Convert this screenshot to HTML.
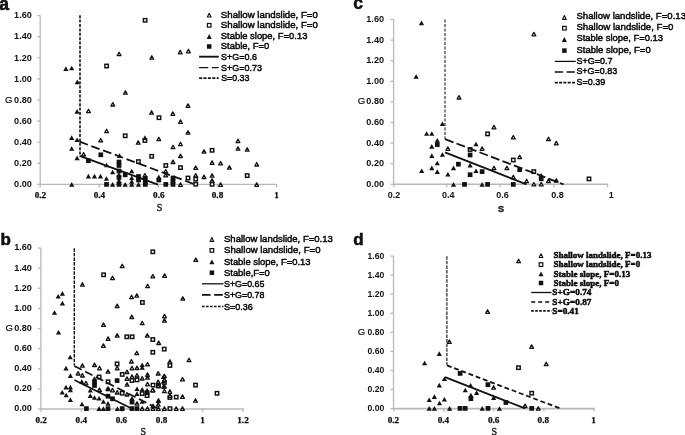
<!DOCTYPE html><html><head><meta charset="utf-8"><style>html,body{margin:0;padding:0;background:#fff;overflow:hidden}svg{display:block;filter:blur(0.3px)}.axis{stroke:#b8b8b8;stroke-width:1.3}.ot{fill:#fff;stroke:#111;stroke-width:1.3;stroke-linejoin:round}.os{fill:#fff;stroke:#111;stroke-width:1.45}.ft,.fs{fill:#111;stroke:none}.sol{stroke:#111;stroke-width:1.8}.dsh{stroke:#111;stroke-width:1.8}.dot{stroke:#111;stroke-width:1.4}text{fill:#111}.lg{stroke:#000;stroke-width:0.45}</style></head><body>
<svg width="685" height="435" viewBox="0 0 685 435">
<rect width="685" height="435" fill="#fff"/>
<g>
<line class="axis" x1="40.2" y1="15.6" x2="40.2" y2="184.4" style="stroke-width:1.3"/>
<line class="axis" x1="39.6" y1="184.4" x2="277.2" y2="184.4" style="stroke-width:1.25"/>
<line class="axis" x1="37.2" y1="184.4" x2="40.2" y2="184.4"/>
<text x="31.8" y="187.15" font-size="9.1" font-family='"Liberation Sans", sans-serif' font-weight="bold" text-anchor="end" >0.00</text>
<line class="axis" x1="37.2" y1="163.3" x2="40.2" y2="163.3"/>
<text x="31.8" y="166.05" font-size="9.1" font-family='"Liberation Sans", sans-serif' font-weight="bold" text-anchor="end" >0.20</text>
<line class="axis" x1="37.2" y1="142.2" x2="40.2" y2="142.2"/>
<text x="31.8" y="144.95" font-size="9.1" font-family='"Liberation Sans", sans-serif' font-weight="bold" text-anchor="end" >0.40</text>
<line class="axis" x1="37.2" y1="121.1" x2="40.2" y2="121.1"/>
<text x="31.8" y="123.85" font-size="9.1" font-family='"Liberation Sans", sans-serif' font-weight="bold" text-anchor="end" >0.60</text>
<line class="axis" x1="37.2" y1="100" x2="40.2" y2="100"/>
<text x="31.8" y="102.75" font-size="9.1" font-family='"Liberation Sans", sans-serif' font-weight="bold" text-anchor="end" >0.80</text>
<line class="axis" x1="37.2" y1="78.9" x2="40.2" y2="78.9"/>
<text x="31.8" y="81.65" font-size="9.1" font-family='"Liberation Sans", sans-serif' font-weight="bold" text-anchor="end" >1.00</text>
<line class="axis" x1="37.2" y1="57.8" x2="40.2" y2="57.8"/>
<text x="31.8" y="60.55" font-size="9.1" font-family='"Liberation Sans", sans-serif' font-weight="bold" text-anchor="end" >1.20</text>
<line class="axis" x1="37.2" y1="36.7" x2="40.2" y2="36.7"/>
<text x="31.8" y="39.45" font-size="9.1" font-family='"Liberation Sans", sans-serif' font-weight="bold" text-anchor="end" >1.40</text>
<line class="axis" x1="37.2" y1="15.6" x2="40.2" y2="15.6"/>
<text x="31.8" y="18.35" font-size="9.1" font-family='"Liberation Sans", sans-serif' font-weight="bold" text-anchor="end" >1.60</text>
<line class="axis" x1="40.2" y1="183.9" x2="40.2" y2="187.4"/>
<line class="axis" x1="99.3" y1="183.9" x2="99.3" y2="187.4"/>
<line class="axis" x1="158.4" y1="183.9" x2="158.4" y2="187.4"/>
<line class="axis" x1="217.5" y1="183.9" x2="217.5" y2="187.4"/>
<line class="axis" x1="276.6" y1="183.9" x2="276.6" y2="187.4"/>
<text x="40.4" y="197.73" font-size="9.2" font-family='"Liberation Serif", serif' font-weight="bold" text-anchor="middle" style="stroke:#000;stroke-width:0.25">0.2</text>
<text x="99.4" y="197.73" font-size="9.2" font-family='"Liberation Serif", serif' font-weight="bold" text-anchor="middle" style="stroke:#000;stroke-width:0.25">0.4</text>
<text x="158.8" y="197.73" font-size="9.2" font-family='"Liberation Serif", serif' font-weight="bold" text-anchor="middle" style="stroke:#000;stroke-width:0.25">0.6</text>
<text x="217.5" y="197.73" font-size="9.2" font-family='"Liberation Serif", serif' font-weight="bold" text-anchor="middle" style="stroke:#000;stroke-width:0.25">0.8</text>
<text x="276.5" y="197.73" font-size="9.2" font-family='"Liberation Serif", serif' font-weight="bold" text-anchor="middle" style="stroke:#000;stroke-width:0.25">1</text>
<text x="5" y="102.99" font-size="9.6" font-family='"Liberation Sans", sans-serif' font-weight="normal" text-anchor="start" style="stroke:#000;stroke-width:0.2">G</text>
<text x="159.5" y="210.9" font-size="10" font-family='"Liberation Serif", serif' font-weight="normal" text-anchor="middle" style="stroke:#000;stroke-width:0.3">S</text>
<text x="-0.8" y="9.5" font-size="17.5" font-family='"Liberation Sans", sans-serif' font-weight="bold" text-anchor="start" style="stroke:#000;stroke-width:0.5">a</text>
<rect class="os" x="143.4" y="18.6" width="3.4" height="3.4"/>
<rect class="os" x="104.9" y="64.3" width="3.4" height="3.4"/>
<rect class="os" x="123.5" y="134.1" width="3.4" height="3.4"/>
<rect class="os" x="157.3" y="116" width="3.4" height="3.4"/>
<rect class="os" x="136.7" y="159.9" width="3.4" height="3.4"/>
<rect class="os" x="150" y="154.6" width="3.4" height="3.4"/>
<rect class="os" x="164.1" y="163.8" width="3.4" height="3.4"/>
<rect class="os" x="178.8" y="165.9" width="3.4" height="3.4"/>
<rect class="os" x="194" y="177.4" width="3.4" height="3.4"/>
<rect class="os" x="194" y="182.5" width="3.4" height="3.4"/>
<rect class="os" x="186.3" y="176.3" width="3.4" height="3.4"/>
<rect class="os" x="210.4" y="148.6" width="3.4" height="3.4"/>
<rect class="os" x="210.4" y="182.6" width="3.4" height="3.4"/>
<rect class="os" x="245.5" y="173.9" width="3.4" height="3.4"/>
<rect class="os" x="143.2" y="138.8" width="3.4" height="3.4"/>
<polygon class="ot" points="117.2,55.6 121,55.6 119.1,52.2"/>
<polygon class="ot" points="149.9,59.2 153.7,59.2 151.8,55.8"/>
<polygon class="ot" points="178.3,53.8 182.1,53.8 180.2,50.4"/>
<polygon class="ot" points="186.5,52.8 190.3,52.8 188.4,49.4"/>
<polygon class="ot" points="123.5,94.2 127.3,94.2 125.4,90.8"/>
<polygon class="ot" points="110.9,106 114.7,106 112.8,102.6"/>
<polygon class="ot" points="186.1,107.3 189.9,107.3 188,103.9"/>
<polygon class="ot" points="86.6,112.6 90.4,112.6 88.5,109.2"/>
<polygon class="ot" points="149.7,114.2 153.5,114.2 151.6,110.8"/>
<polygon class="ot" points="170.9,115.3 174.7,115.3 172.8,111.9"/>
<polygon class="ot" points="178.6,123.3 182.4,123.3 180.5,119.9"/>
<polygon class="ot" points="104.7,132.7 108.5,132.7 106.6,129.3"/>
<polygon class="ot" points="186.1,134.1 189.9,134.1 188,130.7"/>
<polygon class="ot" points="98.8,141.9 102.6,141.9 100.7,138.5"/>
<polygon class="ot" points="136.3,144.2 140.1,144.2 138.2,140.8"/>
<polygon class="ot" points="156.9,140.6 160.7,140.6 158.8,137.2"/>
<polygon class="ot" points="171.1,148.7 174.9,148.7 173,145.3"/>
<polygon class="ot" points="178.6,145.7 182.4,145.7 180.5,142.3"/>
<polygon class="ot" points="178.6,157.5 182.4,157.5 180.5,154.1"/>
<polygon class="ot" points="171.1,163.5 174.9,163.5 173,160.1"/>
<polygon class="ot" points="163.8,172.9 167.6,172.9 165.7,169.5"/>
<polygon class="ot" points="163.8,176.9 167.6,176.9 165.7,173.5"/>
<polygon class="ot" points="193.8,169.4 197.6,169.4 195.7,166"/>
<polygon class="ot" points="193.8,177 197.6,177 195.7,173.6"/>
<polygon class="ot" points="202.1,153.1 205.9,153.1 204,149.7"/>
<polygon class="ot" points="210.2,164.3 214,164.3 212.1,160.9"/>
<polygon class="ot" points="218.7,164.9 222.5,164.9 220.6,161.5"/>
<polygon class="ot" points="227.5,169.1 231.3,169.1 229.4,165.7"/>
<polygon class="ot" points="202.1,178.5 205.9,178.5 204,175.1"/>
<polygon class="ot" points="210.2,177.2 214,177.2 212.1,173.8"/>
<polygon class="ot" points="210.2,182.1 214,182.1 212.1,178.7"/>
<polygon class="ot" points="218.7,186.3 222.5,186.3 220.6,182.9"/>
<polygon class="ot" points="236.1,142.6 239.9,142.6 238,139.2"/>
<polygon class="ot" points="236.1,150.2 239.9,150.2 238,146.8"/>
<polygon class="ot" points="245.3,151.2 249.1,151.2 247.2,147.8"/>
<polygon class="ot" points="254.8,166 258.6,166 256.7,162.6"/>
<polygon class="ot" points="254.8,186.3 258.6,186.3 256.7,182.9"/>
<polygon class="ot" points="81.7,156 85.5,156 83.6,152.6"/>
<polygon class="ot" points="143,177 146.8,177 144.9,173.6"/>
<polygon class="ot" points="178.6,186.3 182.4,186.3 180.5,182.9"/>
<rect class="fs" x="86.05" y="158.35" width="4.7" height="4.7"/>
<rect class="fs" x="98.45" y="152.45" width="4.7" height="4.7"/>
<rect class="fs" x="116.65" y="159.65" width="4.7" height="4.7"/>
<rect class="fs" x="116.65" y="163.15" width="4.7" height="4.7"/>
<rect class="fs" x="116.65" y="168.65" width="4.7" height="4.7"/>
<rect class="fs" x="116.65" y="175.15" width="4.7" height="4.7"/>
<rect class="fs" x="116.65" y="182.05" width="4.7" height="4.7"/>
<rect class="fs" x="104.15" y="182.05" width="4.7" height="4.7"/>
<rect class="fs" x="122.85" y="172.45" width="4.7" height="4.7"/>
<rect class="fs" x="136.15" y="174.15" width="4.7" height="4.7"/>
<rect class="fs" x="136.15" y="177.65" width="4.7" height="4.7"/>
<rect class="fs" x="142.95" y="176.15" width="4.7" height="4.7"/>
<rect class="fs" x="142.95" y="179.65" width="4.7" height="4.7"/>
<rect class="fs" x="142.95" y="182.05" width="4.7" height="4.7"/>
<rect class="fs" x="156.45" y="177.65" width="4.7" height="4.7"/>
<rect class="fs" x="163.45" y="182.05" width="4.7" height="4.7"/>
<rect class="fs" x="170.65" y="175.65" width="4.7" height="4.7"/>
<rect class="fs" x="170.65" y="178.95" width="4.7" height="4.7"/>
<rect class="fs" x="170.65" y="182.05" width="4.7" height="4.7"/>
<polygon class="ft" points="63.3,70.9 68.5,70.9 65.9,66.3"/>
<polygon class="ft" points="69.1,70.3 74.3,70.3 71.7,65.7"/>
<polygon class="ft" points="74.7,84.2 79.9,84.2 77.3,79.6"/>
<polygon class="ft" points="74.5,113.7 79.7,113.7 77.1,109.1"/>
<polygon class="ft" points="69.1,139.9 74.3,139.9 71.7,135.3"/>
<polygon class="ft" points="74.5,142.1 79.7,142.1 77.1,137.5"/>
<polygon class="ft" points="69.1,150.8 74.3,150.8 71.7,146.2"/>
<polygon class="ft" points="74.5,160.2 79.7,160.2 77.1,155.6"/>
<polygon class="ft" points="69.1,186.7 74.3,186.7 71.7,182.1"/>
<polygon class="ft" points="85.8,178.4 91,178.4 88.4,173.8"/>
<polygon class="ft" points="91.9,178.4 97.1,178.4 94.5,173.8"/>
<polygon class="ft" points="97.9,178.4 103.1,178.4 100.5,173.8"/>
<polygon class="ft" points="103.9,167.3 109.1,167.3 106.5,162.7"/>
<polygon class="ft" points="103.8,180.8 109,180.8 106.4,176.2"/>
<polygon class="ft" points="110,174.3 115.2,174.3 112.6,169.7"/>
<polygon class="ft" points="110,186.7 115.2,186.7 112.6,182.1"/>
<polygon class="ft" points="116.9,157.9 122.1,157.9 119.5,153.3"/>
<polygon class="ft" points="122.6,186.7 127.8,186.7 125.2,182.1"/>
<polygon class="ft" points="129.1,173.3 134.3,173.3 131.7,168.7"/>
<polygon class="ft" points="129.1,180.1 134.3,180.1 131.7,175.5"/>
<polygon class="ft" points="129.1,183.7 134.3,183.7 131.7,179.1"/>
<polygon class="ft" points="129.1,186.7 134.3,186.7 131.7,182.1"/>
<polygon class="ft" points="135.9,186.7 141.1,186.7 138.5,182.1"/>
<polygon class="ft" points="156.2,179.2 161.4,179.2 158.8,174.6"/>
<polygon class="ft" points="142.3,139.9 147.5,139.9 144.9,135.3"/>
<polygon class="ft" points="116.4,176.8 121.6,176.8 119,172.2"/>
<polygon class="ft" points="116.4,182.8 121.6,182.8 119,178.2"/>
<line class="dot" x1="80" y1="15.2" x2="80" y2="156.2" stroke-dasharray="3 1.4" style="stroke-width:1.6"/>
<line class="dsh" x1="79.6" y1="141.7" x2="194.7" y2="184.3" stroke-dasharray="8.8 3.7"/>
<line class="sol" x1="79.6" y1="155.9" x2="158" y2="184.7"/>
<polygon class="ot" style="stroke-width:1.1" points="207.35,17 211.05,17 209.2,13.2"/>
<text x="220.8" y="17.8" font-size="9.5" font-family='"Liberation Sans", sans-serif' font-weight="normal" text-anchor="start"  class="lg" textLength="97.1" lengthAdjust="spacingAndGlyphs">Shallow landslide, F=0</text>
<rect class="os" style="stroke-width:1.2" x="207.4" y="23.5" width="3.6" height="3.6"/>
<text x="220.8" y="28.1" font-size="9.5" font-family='"Liberation Sans", sans-serif' font-weight="normal" text-anchor="start"  class="lg" textLength="97.1" lengthAdjust="spacingAndGlyphs">Shallow landslide, F=0</text>
<polygon class="ft" points="206.7,38.95 211.7,38.95 209.2,34.05"/>
<text x="220.8" y="38.5" font-size="9.5" font-family='"Liberation Sans", sans-serif' font-weight="normal" text-anchor="start"  class="lg" textLength="86.6" lengthAdjust="spacingAndGlyphs">Stable slope, F=0.13</text>
<rect class="fs" x="206.95" y="44.25" width="4.5" height="4.5"/>
<text x="220.8" y="49" font-size="9.5" font-family='"Liberation Sans", sans-serif' font-weight="normal" text-anchor="start"  class="lg" textLength="48.5" lengthAdjust="spacingAndGlyphs">Stable, F=0</text>
<line class="sol" x1="199.1" y1="56.7" x2="218.7" y2="56.7" style="stroke-width:1.9"/>
<text x="221" y="59.6" font-size="9.5" font-family='"Liberation Sans", sans-serif' font-weight="normal" text-anchor="start"  class="lg" textLength="35.9" lengthAdjust="spacingAndGlyphs">S+G=0.6</text>
<line class="dsh" x1="199.1" y1="67.6" x2="218.7" y2="67.6" stroke-dasharray="9.2 3.6" style="stroke-width:1.3"/>
<text x="221" y="70.5" font-size="9.5" font-family='"Liberation Sans", sans-serif' font-weight="normal" text-anchor="start"  class="lg" textLength="41" lengthAdjust="spacingAndGlyphs">S+G=0.73</text>
<line class="dot" x1="199.1" y1="78.2" x2="218.7" y2="78.2" stroke-dasharray="3 1.4" style="stroke-width:1.7"/>
<text x="221.2" y="81.1" font-size="9.5" font-family='"Liberation Sans", sans-serif' font-weight="normal" text-anchor="start"  class="lg" textLength="28.2" lengthAdjust="spacingAndGlyphs">S=0.33</text>
</g>
<g>
<line class="axis" x1="40.9" y1="248.04" x2="40.9" y2="409" style="stroke-width:1.3"/>
<line class="axis" x1="40.3" y1="409" x2="243.6" y2="409" style="stroke-width:1.7"/>
<line class="axis" x1="37.9" y1="409" x2="40.9" y2="409"/>
<text x="31.9" y="411.4" font-size="9.1" font-family='"Liberation Sans", sans-serif' font-weight="bold" text-anchor="end" >0.00</text>
<line class="axis" x1="37.9" y1="388.88" x2="40.9" y2="388.88"/>
<text x="31.9" y="391.28" font-size="9.1" font-family='"Liberation Sans", sans-serif' font-weight="bold" text-anchor="end" >0.20</text>
<line class="axis" x1="37.9" y1="368.76" x2="40.9" y2="368.76"/>
<text x="31.9" y="371.16" font-size="9.1" font-family='"Liberation Sans", sans-serif' font-weight="bold" text-anchor="end" >0.40</text>
<line class="axis" x1="37.9" y1="348.64" x2="40.9" y2="348.64"/>
<text x="31.9" y="351.04" font-size="9.1" font-family='"Liberation Sans", sans-serif' font-weight="bold" text-anchor="end" >0.60</text>
<line class="axis" x1="37.9" y1="328.52" x2="40.9" y2="328.52"/>
<text x="31.9" y="330.92" font-size="9.1" font-family='"Liberation Sans", sans-serif' font-weight="bold" text-anchor="end" >0.80</text>
<line class="axis" x1="37.9" y1="308.4" x2="40.9" y2="308.4"/>
<text x="31.9" y="310.8" font-size="9.1" font-family='"Liberation Sans", sans-serif' font-weight="bold" text-anchor="end" >1.00</text>
<line class="axis" x1="37.9" y1="288.28" x2="40.9" y2="288.28"/>
<text x="31.9" y="290.68" font-size="9.1" font-family='"Liberation Sans", sans-serif' font-weight="bold" text-anchor="end" >1.20</text>
<line class="axis" x1="37.9" y1="268.16" x2="40.9" y2="268.16"/>
<text x="31.9" y="270.56" font-size="9.1" font-family='"Liberation Sans", sans-serif' font-weight="bold" text-anchor="end" >1.40</text>
<line class="axis" x1="37.9" y1="248.04" x2="40.9" y2="248.04"/>
<text x="31.9" y="250.44" font-size="9.1" font-family='"Liberation Sans", sans-serif' font-weight="bold" text-anchor="end" >1.60</text>
<line class="axis" x1="41" y1="408.5" x2="41" y2="412"/>
<line class="axis" x1="81.4" y1="408.5" x2="81.4" y2="412"/>
<line class="axis" x1="121.8" y1="408.5" x2="121.8" y2="412"/>
<line class="axis" x1="162.2" y1="408.5" x2="162.2" y2="412"/>
<line class="axis" x1="202.6" y1="408.5" x2="202.6" y2="412"/>
<line class="axis" x1="243" y1="408.5" x2="243" y2="412"/>
<text x="41.2" y="423.23" font-size="9.2" font-family='"Liberation Serif", serif' font-weight="bold" text-anchor="middle" style="stroke:#000;stroke-width:0.25">0.2</text>
<text x="81.3" y="423.23" font-size="9.2" font-family='"Liberation Serif", serif' font-weight="bold" text-anchor="middle" style="stroke:#000;stroke-width:0.25">0.4</text>
<text x="121.4" y="423.23" font-size="9.2" font-family='"Liberation Serif", serif' font-weight="bold" text-anchor="middle" style="stroke:#000;stroke-width:0.25">0.6</text>
<text x="161.6" y="423.23" font-size="9.2" font-family='"Liberation Serif", serif' font-weight="bold" text-anchor="middle" style="stroke:#000;stroke-width:0.25">0.8</text>
<text x="202.6" y="423.23" font-size="9.2" font-family='"Liberation Serif", serif' font-weight="bold" text-anchor="middle" style="stroke:#000;stroke-width:0.25">1</text>
<text x="243" y="423.23" font-size="9.2" font-family='"Liberation Serif", serif' font-weight="bold" text-anchor="middle" style="stroke:#000;stroke-width:0.25">1.2</text>
<text x="5.4" y="331.09" font-size="9.6" font-family='"Liberation Sans", sans-serif' font-weight="normal" text-anchor="start" style="stroke:#000;stroke-width:0.2">G</text>
<text x="143.2" y="434.7" font-size="10" font-family='"Liberation Serif", serif' font-weight="normal" text-anchor="middle" style="stroke:#000;stroke-width:0.3">S</text>
<text x="0.6" y="244.9" font-size="17" font-family='"Liberation Sans", sans-serif' font-weight="bold" text-anchor="start" style="stroke:#000;stroke-width:0.5">b</text>
<rect class="os" x="101.9" y="273.1" width="3.4" height="3.4"/>
<rect class="os" x="151.1" y="250.1" width="3.4" height="3.4"/>
<rect class="os" x="140.7" y="300.8" width="3.4" height="3.4"/>
<rect class="os" x="125.1" y="335.1" width="3.4" height="3.4"/>
<rect class="os" x="130.4" y="335.1" width="3.4" height="3.4"/>
<rect class="os" x="151.1" y="337.8" width="3.4" height="3.4"/>
<rect class="os" x="151.1" y="350.6" width="3.4" height="3.4"/>
<rect class="os" x="162.5" y="347.4" width="3.4" height="3.4"/>
<rect class="os" x="115.4" y="362.2" width="3.4" height="3.4"/>
<rect class="os" x="97.4" y="375.3" width="3.4" height="3.4"/>
<rect class="os" x="106.3" y="380.1" width="3.4" height="3.4"/>
<rect class="os" x="120.5" y="372.7" width="3.4" height="3.4"/>
<rect class="os" x="130.3" y="378.8" width="3.4" height="3.4"/>
<rect class="os" x="135.3" y="378.2" width="3.4" height="3.4"/>
<rect class="os" x="151.3" y="383.4" width="3.4" height="3.4"/>
<rect class="os" x="120.5" y="391.5" width="3.4" height="3.4"/>
<rect class="os" x="140.5" y="391.9" width="3.4" height="3.4"/>
<rect class="os" x="145.4" y="393.9" width="3.4" height="3.4"/>
<rect class="os" x="168.2" y="363.8" width="3.4" height="3.4"/>
<rect class="os" x="162.7" y="380.8" width="3.4" height="3.4"/>
<rect class="os" x="156.8" y="384.1" width="3.4" height="3.4"/>
<rect class="os" x="168.2" y="395.8" width="3.4" height="3.4"/>
<rect class="os" x="174.5" y="395.4" width="3.4" height="3.4"/>
<rect class="os" x="193.8" y="383.4" width="3.4" height="3.4"/>
<rect class="os" x="215.3" y="391.6" width="3.4" height="3.4"/>
<rect class="os" x="168.2" y="406.9" width="3.4" height="3.4"/>
<polygon class="ot" points="80.5,286.2 84.3,286.2 82.4,282.8"/>
<polygon class="ot" points="110.6,279.6 114.4,279.6 112.5,276.2"/>
<polygon class="ot" points="120.3,267.6 124.1,267.6 122.2,264.2"/>
<polygon class="ot" points="129.7,298.6 133.5,298.6 131.6,295.2"/>
<polygon class="ot" points="134.9,297.2 138.7,297.2 136.8,293.8"/>
<polygon class="ot" points="115.3,307.5 119.1,307.5 117.2,304.1"/>
<polygon class="ot" points="129.9,318.5 133.7,318.5 131.8,315.1"/>
<polygon class="ot" points="101.6,326.4 105.4,326.4 103.5,323"/>
<polygon class="ot" points="193.9,261.4 197.7,261.4 195.8,258"/>
<polygon class="ot" points="150.9,277.9 154.7,277.9 152.8,274.5"/>
<polygon class="ot" points="162.7,277.3 166.5,277.3 164.6,273.9"/>
<polygon class="ot" points="145.7,287.7 149.5,287.7 147.6,284.3"/>
<polygon class="ot" points="180.9,300.1 184.7,300.1 182.8,296.7"/>
<polygon class="ot" points="140.3,324.7 144.1,324.7 142.2,321.3"/>
<polygon class="ot" points="162.6,317.8 166.4,317.8 164.5,314.4"/>
<polygon class="ot" points="162.6,322.1 166.4,322.1 164.5,318.7"/>
<polygon class="ot" points="106.2,340.3 110,340.3 108.1,336.9"/>
<polygon class="ot" points="115.3,337.1 119.1,337.1 117.2,333.7"/>
<polygon class="ot" points="145.4,337.1 149.2,337.1 147.3,333.7"/>
<polygon class="ot" points="156.8,344.5 160.6,344.5 158.7,341.1"/>
<polygon class="ot" points="101.5,347.3 105.3,347.3 103.4,343.9"/>
<polygon class="ot" points="134.9,354.6 138.7,354.6 136.8,351.2"/>
<polygon class="ot" points="80.5,367.2 84.3,367.2 82.4,363.8"/>
<polygon class="ot" points="92.6,366.5 96.4,366.5 94.5,363.1"/>
<polygon class="ot" points="97.6,369.8 101.4,369.8 99.5,366.4"/>
<polygon class="ot" points="106.1,373.1 109.9,373.1 108,369.7"/>
<polygon class="ot" points="115.3,369.8 119.1,369.8 117.2,366.4"/>
<polygon class="ot" points="76.2,375 80,375 78.1,371.6"/>
<polygon class="ot" points="80.5,377 84.3,377 82.4,373.6"/>
<polygon class="ot" points="84.1,384.8 87.9,384.8 86,381.4"/>
<polygon class="ot" points="97.6,391.4 101.4,391.4 99.5,388"/>
<polygon class="ot" points="106.1,390.1 109.9,390.1 108,386.7"/>
<polygon class="ot" points="110.6,391.8 114.4,391.8 112.5,388.4"/>
<polygon class="ot" points="115.3,394 119.1,394 117.2,390.6"/>
<polygon class="ot" points="129.5,363 133.3,363 131.4,359.6"/>
<polygon class="ot" points="145.6,365.9 149.4,365.9 147.5,362.5"/>
<polygon class="ot" points="130.1,369.8 133.9,369.8 132,366.4"/>
<polygon class="ot" points="135.1,369.5 138.9,369.5 137,366.1"/>
<polygon class="ot" points="125.1,373.5 128.9,373.5 127,370.1"/>
<polygon class="ot" points="125.1,380.3 128.9,380.3 127,376.9"/>
<polygon class="ot" points="130.1,378.3 133.9,378.3 132,374.9"/>
<polygon class="ot" points="135.1,377 138.9,377 137,373.6"/>
<polygon class="ot" points="140.3,380 144.1,380 142.2,376.6"/>
<polygon class="ot" points="145.6,376.3 149.4,376.3 147.5,372.9"/>
<polygon class="ot" points="145.6,379.2 149.4,379.2 147.5,375.8"/>
<polygon class="ot" points="156.3,375 160.1,375 158.2,371.6"/>
<polygon class="ot" points="125.1,386.2 128.9,386.2 127,382.8"/>
<polygon class="ot" points="145.6,385.8 149.4,385.8 147.5,382.4"/>
<polygon class="ot" points="156.3,383.5 160.1,383.5 158.2,380.1"/>
<polygon class="ot" points="156.3,387.5 160.1,387.5 158.2,384.1"/>
<polygon class="ot" points="151.1,391.8 154.9,391.8 153,388.4"/>
<polygon class="ot" points="125.1,396 128.9,396 127,392.6"/>
<polygon class="ot" points="135.1,405.1 138.9,405.1 137,401.7"/>
<polygon class="ot" points="156.3,406.2 160.1,406.2 158.2,402.8"/>
<polygon class="ot" points="151.1,407.7 154.9,407.7 153,404.3"/>
<polygon class="ot" points="140.3,410.3 144.1,410.3 142.2,406.9"/>
<polygon class="ot" points="145.6,410.3 149.4,410.3 147.5,406.9"/>
<polygon class="ot" points="151.1,410.3 154.9,410.3 153,406.9"/>
<polygon class="ot" points="156.4,410.3 160.2,410.3 158.3,406.9"/>
<polygon class="ot" points="162.5,410.3 166.3,410.3 164.4,406.9"/>
<polygon class="ot" points="174.3,410.3 178.1,410.3 176.2,406.9"/>
<polygon class="ot" points="180.6,410.3 184.4,410.3 182.5,406.9"/>
<polygon class="ot" points="168,363.2 171.8,363.2 169.9,359.8"/>
<polygon class="ot" points="187.1,361.7 190.9,361.7 189,358.3"/>
<polygon class="ot" points="162.5,377.6 166.3,377.6 164.4,374.2"/>
<polygon class="ot" points="162.5,381.6 166.3,381.6 164.4,378.2"/>
<polygon class="ot" points="180.6,380.9 184.4,380.9 182.5,377.5"/>
<polygon class="ot" points="150.7,391.8 154.5,391.8 152.6,388.4"/>
<polygon class="ot" points="162.5,388.1 166.3,388.1 164.4,384.7"/>
<polygon class="ot" points="162.5,392.7 166.3,392.7 164.4,389.3"/>
<polygon class="ot" points="168,393.3 171.8,393.3 169.9,389.9"/>
<polygon class="ot" points="168,397.3 171.8,397.3 169.9,393.9"/>
<polygon class="ot" points="180.6,398.3 184.4,398.3 182.5,394.9"/>
<polygon class="ot" points="193.6,402.2 197.4,402.2 195.5,398.8"/>
<polygon class="ot" points="156.6,402.2 160.4,402.2 158.5,398.8"/>
<rect class="fs" x="92.15" y="379.65" width="4.7" height="4.7"/>
<rect class="fs" x="92.15" y="383.15" width="4.7" height="4.7"/>
<rect class="fs" x="114.75" y="378.25" width="4.7" height="4.7"/>
<rect class="fs" x="105.65" y="393.85" width="4.7" height="4.7"/>
<rect class="fs" x="110.15" y="396.45" width="4.7" height="4.7"/>
<rect class="fs" x="129.65" y="399.75" width="4.7" height="4.7"/>
<rect class="fs" x="144.75" y="390.45" width="4.7" height="4.7"/>
<rect class="fs" x="84.05" y="406.25" width="4.7" height="4.7"/>
<rect class="fs" x="105.65" y="406.25" width="4.7" height="4.7"/>
<rect class="fs" x="119.85" y="406.25" width="4.7" height="4.7"/>
<rect class="fs" x="129.65" y="406.25" width="4.7" height="4.7"/>
<rect class="fs" x="134.65" y="406.25" width="4.7" height="4.7"/>
<polygon class="ft" points="59.8,295.7 65,295.7 62.4,291.1"/>
<polygon class="ft" points="55.6,298.6 60.8,298.6 58.2,294"/>
<polygon class="ft" points="59.8,305.4 65,305.4 62.4,300.8"/>
<polygon class="ft" points="51.9,314.8 57.1,314.8 54.5,310.2"/>
<polygon class="ft" points="55.9,334.5 61.1,334.5 58.5,329.9"/>
<polygon class="ft" points="67.6,359.3 72.8,359.3 70.2,354.7"/>
<polygon class="ft" points="63.4,370.4 68.6,370.4 66,365.8"/>
<polygon class="ft" points="67.8,377.9 73,377.9 70.4,373.3"/>
<polygon class="ft" points="63.4,389.4 68.6,389.4 66,384.8"/>
<polygon class="ft" points="67.8,389.4 73,389.4 70.4,384.8"/>
<polygon class="ft" points="67.8,392.3 73,392.3 70.4,387.7"/>
<polygon class="ft" points="59.6,394.6 64.8,394.6 62.2,390"/>
<polygon class="ft" points="63.6,397.3 68.8,397.3 66.2,392.7"/>
<polygon class="ft" points="67.8,402.1 73,402.1 70.4,397.5"/>
<polygon class="ft" points="79.4,406.3 84.6,406.3 82,401.7"/>
<polygon class="ft" points="87.7,392.6 92.9,392.6 90.3,388"/>
<polygon class="ft" points="87.7,397.9 92.9,397.9 90.3,393.3"/>
<polygon class="ft" points="91.9,399.8 97.1,399.8 94.5,395.2"/>
<polygon class="ft" points="96.5,400.5 101.7,400.5 99.1,395.9"/>
<polygon class="ft" points="100.8,403.8 106,403.8 103.4,399.2"/>
<polygon class="ft" points="105.4,391.3 110.6,391.3 108,386.7"/>
<polygon class="ft" points="105.4,405.7 110.6,405.7 108,401.1"/>
<polygon class="ft" points="79.2,383.8 84.4,383.8 81.8,379.2"/>
<polygon class="ft" points="91.9,380.8 97.1,380.8 94.5,376.2"/>
<polygon class="ft" points="139.6,367.1 144.8,367.1 142.2,362.5"/>
<polygon class="ft" points="139.6,369.7 144.8,369.7 142.2,365.1"/>
<polygon class="ft" points="134.4,391.1 139.6,391.1 137,386.5"/>
<polygon class="ft" points="139.6,391.6 144.8,391.6 142.2,387"/>
<polygon class="ft" points="144.5,392.4 149.7,392.4 147.1,387.8"/>
<polygon class="ft" points="134.4,395.9 139.6,395.9 137,391.3"/>
<polygon class="ft" points="129.4,400.5 134.6,400.5 132,395.9"/>
<polygon class="ft" points="139.6,403.8 144.8,403.8 142.2,399.2"/>
<polygon class="ft" points="155.6,403.1 160.8,403.1 158.2,398.5"/>
<polygon class="ft" points="160.8,378.9 166,378.9 163.4,374.3"/>
<polygon class="ft" points="160.8,383.5 166,383.5 163.4,378.9"/>
<polygon class="ft" points="160.8,388.7 166,388.7 163.4,384.1"/>
<polygon class="ft" points="96.5,410.9 101.7,410.9 99.1,406.3"/>
<polygon class="ft" points="100.8,410.9 106,410.9 103.4,406.3"/>
<polygon class="ft" points="114.8,410.9 120,410.9 117.4,406.3"/>
<line class="dot" x1="74.3" y1="248.3" x2="74.3" y2="365.5" stroke-dasharray="3.4 1.2" style=""/>
<line class="dsh" x1="74.3" y1="366" x2="158.3" y2="408.9" stroke-dasharray="8.3 3.8"/>
<line class="sol" x1="74.4" y1="380" x2="132" y2="408.8"/>
<polygon class="ot" style="stroke-width:1.1" points="210.05,241.4 213.75,241.4 211.9,237.6"/>
<text x="224" y="241.7" font-size="9.5" font-family='"Liberation Sans", sans-serif' font-weight="normal" text-anchor="start"  class="lg" textLength="108.8" lengthAdjust="spacingAndGlyphs">Shallow landslide, F=0.13</text>
<rect class="os" style="stroke-width:1.2" x="210.1" y="248.6" width="3.6" height="3.6"/>
<text x="224" y="253.3" font-size="9.5" font-family='"Liberation Sans", sans-serif' font-weight="normal" text-anchor="start"  class="lg" textLength="96.5" lengthAdjust="spacingAndGlyphs">Shallow landslide, F=0</text>
<polygon class="ft" points="209.4,264.35 214.4,264.35 211.9,259.45"/>
<text x="224" y="264.9" font-size="9.5" font-family='"Liberation Sans", sans-serif' font-weight="normal" text-anchor="start"  class="lg" textLength="86.5" lengthAdjust="spacingAndGlyphs">Stable slope, F=0.13</text>
<rect class="fs" x="209.65" y="270.45" width="4.5" height="4.5"/>
<text x="224" y="275.9" font-size="9.5" font-family='"Liberation Sans", sans-serif' font-weight="normal" text-anchor="start"  class="lg" textLength="45.7" lengthAdjust="spacingAndGlyphs">Stable,F=0</text>
<line class="sol" x1="202" y1="283.8" x2="223.4" y2="283.8" style="stroke-width:1.3"/>
<text x="224" y="287.1" font-size="9.5" font-family='"Liberation Sans", sans-serif' font-weight="normal" text-anchor="start"  class="lg" textLength="40.4" lengthAdjust="spacingAndGlyphs">S+G=0.65</text>
<line class="dsh" x1="202" y1="294.9" x2="223.4" y2="294.9" stroke-dasharray="8.6 3.6" style="stroke-width:1.6"/>
<text x="224" y="298.2" font-size="9.5" font-family='"Liberation Sans", sans-serif' font-weight="normal" text-anchor="start"  class="lg" textLength="40.4" lengthAdjust="spacingAndGlyphs">S+G=0.78</text>
<line class="dot" x1="202" y1="306.5" x2="223.4" y2="306.5" stroke-dasharray="2.6 1.4" style="stroke-width:1.6"/>
<text x="224" y="309.8" font-size="9.5" font-family='"Liberation Sans", sans-serif' font-weight="normal" text-anchor="start"  class="lg" textLength="28.8" lengthAdjust="spacingAndGlyphs">S=0.36</text>
</g>
<g>
<line class="axis" x1="393.6" y1="19.5" x2="393.6" y2="184.3" style="stroke-width:1.3"/>
<line class="axis" x1="393" y1="184.3" x2="608.1" y2="184.3" style="stroke-width:1.4"/>
<line class="axis" x1="390.6" y1="184.3" x2="393.6" y2="184.3"/>
<text x="384" y="186.7" font-size="9.1" font-family='"Liberation Sans", sans-serif' font-weight="bold" text-anchor="end" >0.00</text>
<line class="axis" x1="390.6" y1="163.7" x2="393.6" y2="163.7"/>
<text x="384" y="166.1" font-size="9.1" font-family='"Liberation Sans", sans-serif' font-weight="bold" text-anchor="end" >0.20</text>
<line class="axis" x1="390.6" y1="143.1" x2="393.6" y2="143.1"/>
<text x="384" y="145.5" font-size="9.1" font-family='"Liberation Sans", sans-serif' font-weight="bold" text-anchor="end" >0.40</text>
<line class="axis" x1="390.6" y1="122.5" x2="393.6" y2="122.5"/>
<text x="384" y="124.9" font-size="9.1" font-family='"Liberation Sans", sans-serif' font-weight="bold" text-anchor="end" >0.60</text>
<line class="axis" x1="390.6" y1="101.9" x2="393.6" y2="101.9"/>
<text x="384" y="104.3" font-size="9.1" font-family='"Liberation Sans", sans-serif' font-weight="bold" text-anchor="end" >0.80</text>
<line class="axis" x1="390.6" y1="81.3" x2="393.6" y2="81.3"/>
<text x="384" y="83.7" font-size="9.1" font-family='"Liberation Sans", sans-serif' font-weight="bold" text-anchor="end" >1.00</text>
<line class="axis" x1="390.6" y1="60.7" x2="393.6" y2="60.7"/>
<text x="384" y="63.1" font-size="9.1" font-family='"Liberation Sans", sans-serif' font-weight="bold" text-anchor="end" >1.20</text>
<line class="axis" x1="390.6" y1="40.1" x2="393.6" y2="40.1"/>
<text x="384" y="42.5" font-size="9.1" font-family='"Liberation Sans", sans-serif' font-weight="bold" text-anchor="end" >1.40</text>
<line class="axis" x1="390.6" y1="19.5" x2="393.6" y2="19.5"/>
<text x="384" y="21.9" font-size="9.1" font-family='"Liberation Sans", sans-serif' font-weight="bold" text-anchor="end" >1.60</text>
<line class="axis" x1="393.8" y1="183.8" x2="393.8" y2="187.3"/>
<line class="axis" x1="446.8" y1="183.8" x2="446.8" y2="187.3"/>
<line class="axis" x1="500" y1="183.8" x2="500" y2="187.3"/>
<line class="axis" x1="554" y1="183.8" x2="554" y2="187.3"/>
<line class="axis" x1="607.5" y1="183.8" x2="607.5" y2="187.3"/>
<text x="394" y="198.16" font-size="9" font-family='"Liberation Sans", sans-serif' font-weight="bold" text-anchor="middle" style="stroke:#000;stroke-width:0">0.2</text>
<text x="448.2" y="198.16" font-size="9" font-family='"Liberation Sans", sans-serif' font-weight="bold" text-anchor="middle" style="stroke:#000;stroke-width:0">0.4</text>
<text x="502.4" y="198.16" font-size="9" font-family='"Liberation Sans", sans-serif' font-weight="bold" text-anchor="middle" style="stroke:#000;stroke-width:0">0.6</text>
<text x="557.6" y="198.16" font-size="9" font-family='"Liberation Sans", sans-serif' font-weight="bold" text-anchor="middle" style="stroke:#000;stroke-width:0">0.8</text>
<text x="611.2" y="198.16" font-size="9" font-family='"Liberation Sans", sans-serif' font-weight="bold" text-anchor="middle" style="stroke:#000;stroke-width:0">1</text>
<text x="357.8" y="104.49" font-size="9.6" font-family='"Liberation Sans", sans-serif' font-weight="normal" text-anchor="start" style="stroke:#000;stroke-width:0.2">G</text>
<text x="501.1" y="211.87" font-size="9" font-family='"Liberation Sans", sans-serif' font-weight="bold" text-anchor="middle" style="stroke:#000;stroke-width:0.3">S</text>
<text x="353.2" y="9.3" font-size="17.5" font-family='"Liberation Sans", sans-serif' font-weight="bold" text-anchor="start" style="stroke:#000;stroke-width:0.5">c</text>
<rect class="os" x="485.9" y="132.2" width="3.4" height="3.4"/>
<rect class="os" x="468.4" y="147.8" width="3.4" height="3.4"/>
<rect class="os" x="511.6" y="158.3" width="3.4" height="3.4"/>
<rect class="os" x="532.1" y="169.9" width="3.4" height="3.4"/>
<rect class="os" x="587.3" y="177.2" width="3.4" height="3.4"/>
<polygon class="ot" points="457.1,99 460.9,99 459,95.6"/>
<polygon class="ot" points="532,35.8 535.8,35.8 533.9,32.4"/>
<polygon class="ot" points="446,150.3 449.8,150.3 447.9,146.9"/>
<polygon class="ot" points="492.1,128.8 495.9,128.8 494,125.4"/>
<polygon class="ot" points="511.4,138.9 515.2,138.9 513.3,135.5"/>
<polygon class="ot" points="480.2,150.3 484,150.3 482.1,146.9"/>
<polygon class="ot" points="492.1,169.6 495.9,169.6 494,166.2"/>
<polygon class="ot" points="505,169.6 508.8,169.6 506.9,166.2"/>
<polygon class="ot" points="517.8,158.6 521.6,158.6 519.7,155.2"/>
<polygon class="ot" points="511.4,178.8 515.2,178.8 513.3,175.4"/>
<polygon class="ot" points="524.7,182.7 528.5,182.7 526.6,179.3"/>
<polygon class="ot" points="532,185.9 535.8,185.9 533.9,182.5"/>
<polygon class="ot" points="546.6,140.6 550.4,140.6 548.5,137.2"/>
<polygon class="ot" points="554.4,144.8 558.2,144.8 556.3,141.4"/>
<polygon class="ot" points="539.3,185.9 543.1,185.9 541.2,182.5"/>
<polygon class="ot" points="546.6,182.5 550.4,182.5 548.5,179.1"/>
<polygon class="ot" points="554.4,182.1 558.2,182.1 556.3,178.7"/>
<rect class="fs" x="434.95" y="142.25" width="4.7" height="4.7"/>
<rect class="fs" x="456.05" y="161.85" width="4.7" height="4.7"/>
<rect class="fs" x="467.75" y="152.65" width="4.7" height="4.7"/>
<rect class="fs" x="467.75" y="172.35" width="4.7" height="4.7"/>
<rect class="fs" x="479.75" y="169.25" width="4.7" height="4.7"/>
<rect class="fs" x="462.15" y="182.05" width="4.7" height="4.7"/>
<rect class="fs" x="485.25" y="182.05" width="4.7" height="4.7"/>
<rect class="fs" x="510.95" y="182.05" width="4.7" height="4.7"/>
<rect class="fs" x="517.35" y="167.35" width="4.7" height="4.7"/>
<rect class="fs" x="538.85" y="176.55" width="4.7" height="4.7"/>
<polygon class="ft" points="418.9,25.2 424.1,25.2 421.5,20.6"/>
<polygon class="ft" points="413.5,78.8 418.7,78.8 416.1,74.2"/>
<polygon class="ft" points="439.8,126.1 445,126.1 442.4,121.5"/>
<polygon class="ft" points="424,135.8 429.2,135.8 426.6,131.2"/>
<polygon class="ft" points="429.2,135.8 434.4,135.8 431.8,131.2"/>
<polygon class="ft" points="434.7,142.5 439.9,142.5 437.3,137.9"/>
<polygon class="ft" points="429.2,148.7 434.4,148.7 431.8,144.1"/>
<polygon class="ft" points="429.2,157.9 434.4,157.9 431.8,153.3"/>
<polygon class="ft" points="439.8,156.8 445,156.8 442.4,152.2"/>
<polygon class="ft" points="434.7,165.3 439.9,165.3 437.3,160.7"/>
<polygon class="ft" points="419.1,173 424.3,173 421.7,168.4"/>
<polygon class="ft" points="429.2,170.2 434.4,170.2 431.8,165.6"/>
<polygon class="ft" points="434.7,173.9 439.9,173.9 437.3,169.3"/>
<polygon class="ft" points="450.9,170.2 456.1,170.2 453.5,165.6"/>
<polygon class="ft" points="445.3,176.6 450.5,176.6 447.9,172"/>
<polygon class="ft" points="467.5,167.4 472.7,167.4 470.1,162.8"/>
<polygon class="ft" points="473.4,146.3 478.6,146.3 476,141.7"/>
<polygon class="ft" points="473.4,173 478.6,173 476,168.4"/>
<polygon class="ft" points="450.9,186.7 456.1,186.7 453.5,182.1"/>
<polygon class="ft" points="479.5,186.7 484.7,186.7 482.1,182.1"/>
<polygon class="ft" points="538.6,177.6 543.8,177.6 541.2,173"/>
<line class="dot" x1="445" y1="19.4" x2="445" y2="139" stroke-dasharray="3.2 1.3" style="stroke:#333;stroke-width:1.2"/>
<line class="dsh" x1="445" y1="139.1" x2="563.6" y2="184.4" stroke-dasharray="9 3.3"/>
<line class="sol" x1="445" y1="152.3" x2="526.5" y2="184.4"/>
<polygon class="ot" style="stroke-width:1.1" points="562.55,19.4 566.25,19.4 564.4,15.6"/>
<text x="576.4" y="19.2" font-size="9.6" font-family='"Liberation Sans", sans-serif' font-weight="normal" text-anchor="start"  class="lg">Shallow landslide, F=0.13</text>
<rect class="os" style="stroke-width:1.2" x="562.6" y="26.4" width="3.6" height="3.6"/>
<text x="576.4" y="29.8" font-size="9.6" font-family='"Liberation Sans", sans-serif' font-weight="normal" text-anchor="start"  class="lg" textLength="97.1" lengthAdjust="spacingAndGlyphs">Shallow landslide, F=0</text>
<polygon class="ft" points="561.9,41.95 566.9,41.95 564.4,37.05"/>
<text x="576.4" y="41" font-size="9.6" font-family='"Liberation Sans", sans-serif' font-weight="normal" text-anchor="start"  class="lg" textLength="86.6" lengthAdjust="spacingAndGlyphs">Stable slope, F=0.13</text>
<rect class="fs" x="562.15" y="48.35" width="4.5" height="4.5"/>
<text x="576.4" y="52.5" font-size="9.6" font-family='"Liberation Sans", sans-serif' font-weight="normal" text-anchor="start"  class="lg" textLength="74.3" lengthAdjust="spacingAndGlyphs">Stable slope, F=0</text>
<line class="sol" x1="554.8" y1="61.4" x2="575.8" y2="61.4" style="stroke-width:1.3"/>
<text x="576.4" y="63.7" font-size="9.6" font-family='"Liberation Sans", sans-serif' font-weight="normal" text-anchor="start"  class="lg" textLength="36.2" lengthAdjust="spacingAndGlyphs">S+G=0.7</text>
<line class="dsh" x1="554.8" y1="72" x2="575.8" y2="72" stroke-dasharray="8.2 3.6" style="stroke-width:1.6"/>
<text x="576.4" y="74.3" font-size="9.6" font-family='"Liberation Sans", sans-serif' font-weight="normal" text-anchor="start"  class="lg" textLength="40.8" lengthAdjust="spacingAndGlyphs">S+G=0.83</text>
<line class="dot" x1="554.8" y1="82.6" x2="575.8" y2="82.6" stroke-dasharray="3 1.3" style="stroke-width:1.6"/>
<text x="576.4" y="84.9" font-size="9.6" font-family='"Liberation Sans", sans-serif' font-weight="normal" text-anchor="start"  class="lg" textLength="28.8" lengthAdjust="spacingAndGlyphs">S=0.39</text>
</g>
<g>
<line class="axis" x1="393.5" y1="256.04" x2="393.5" y2="408.6" style="stroke-width:1.3"/>
<line class="axis" x1="392.9" y1="408.6" x2="594.6" y2="408.6" style="stroke-width:1.7"/>
<line class="axis" x1="390.5" y1="408.6" x2="393.5" y2="408.6"/>
<text x="384.3" y="411.44" font-size="8.6" font-family='"Liberation Sans", sans-serif' font-weight="bold" text-anchor="end" >0.00</text>
<line class="axis" x1="390.5" y1="389.53" x2="393.5" y2="389.53"/>
<text x="384.3" y="392.37" font-size="8.6" font-family='"Liberation Sans", sans-serif' font-weight="bold" text-anchor="end" >0.20</text>
<line class="axis" x1="390.5" y1="370.46" x2="393.5" y2="370.46"/>
<text x="384.3" y="373.3" font-size="8.6" font-family='"Liberation Sans", sans-serif' font-weight="bold" text-anchor="end" >0.40</text>
<line class="axis" x1="390.5" y1="351.39" x2="393.5" y2="351.39"/>
<text x="384.3" y="354.23" font-size="8.6" font-family='"Liberation Sans", sans-serif' font-weight="bold" text-anchor="end" >0.60</text>
<line class="axis" x1="390.5" y1="332.32" x2="393.5" y2="332.32"/>
<text x="384.3" y="335.16" font-size="8.6" font-family='"Liberation Sans", sans-serif' font-weight="bold" text-anchor="end" >0.80</text>
<line class="axis" x1="390.5" y1="313.25" x2="393.5" y2="313.25"/>
<text x="384.3" y="316.09" font-size="8.6" font-family='"Liberation Sans", sans-serif' font-weight="bold" text-anchor="end" >1.00</text>
<line class="axis" x1="390.5" y1="294.18" x2="393.5" y2="294.18"/>
<text x="384.3" y="297.02" font-size="8.6" font-family='"Liberation Sans", sans-serif' font-weight="bold" text-anchor="end" >1.20</text>
<line class="axis" x1="390.5" y1="275.11" x2="393.5" y2="275.11"/>
<text x="384.3" y="277.95" font-size="8.6" font-family='"Liberation Sans", sans-serif' font-weight="bold" text-anchor="end" >1.40</text>
<line class="axis" x1="390.5" y1="256.04" x2="393.5" y2="256.04"/>
<text x="384.3" y="258.88" font-size="8.6" font-family='"Liberation Sans", sans-serif' font-weight="bold" text-anchor="end" >1.60</text>
<line class="axis" x1="393.8" y1="408.1" x2="393.8" y2="411.6"/>
<line class="axis" x1="443.8" y1="408.1" x2="443.8" y2="411.6"/>
<line class="axis" x1="493.9" y1="408.1" x2="493.9" y2="411.6"/>
<line class="axis" x1="543.9" y1="408.1" x2="543.9" y2="411.6"/>
<line class="axis" x1="594" y1="408.1" x2="594" y2="411.6"/>
<text x="393.4" y="422.63" font-size="9.2" font-family='"Liberation Serif", serif' font-weight="bold" text-anchor="middle" style="stroke:#000;stroke-width:0.25">0.2</text>
<text x="443.4" y="422.63" font-size="9.2" font-family='"Liberation Serif", serif' font-weight="bold" text-anchor="middle" style="stroke:#000;stroke-width:0.25">0.4</text>
<text x="493.7" y="422.63" font-size="9.2" font-family='"Liberation Serif", serif' font-weight="bold" text-anchor="middle" style="stroke:#000;stroke-width:0.25">0.6</text>
<text x="543.3" y="422.63" font-size="9.2" font-family='"Liberation Serif", serif' font-weight="bold" text-anchor="middle" style="stroke:#000;stroke-width:0.25">0.8</text>
<text x="593.5" y="422.63" font-size="9.2" font-family='"Liberation Serif", serif' font-weight="bold" text-anchor="middle" style="stroke:#000;stroke-width:0.25">1</text>
<text x="357.8" y="334.99" font-size="9.6" font-family='"Liberation Sans", sans-serif' font-weight="normal" text-anchor="start" style="stroke:#000;stroke-width:0.2">G</text>
<text x="494.2" y="434.8" font-size="10" font-family='"Liberation Serif", serif' font-weight="normal" text-anchor="middle" style="stroke:#000;stroke-width:0.3">S</text>
<text x="353.2" y="245" font-size="17" font-family='"Liberation Sans", sans-serif' font-weight="bold" text-anchor="start" style="stroke:#000;stroke-width:0.5">d</text>
<rect class="os" x="516.8" y="366" width="3.4" height="3.4"/>
<rect class="os" x="530" y="391.5" width="3.4" height="3.4"/>
<polygon class="ot" points="447.4,343.4 451.2,343.4 449.3,340"/>
<polygon class="ot" points="544.3,365.6 548.1,365.6 546.2,362.2"/>
<polygon class="ot" points="516.7,262.7 520.5,262.7 518.6,259.3"/>
<polygon class="ot" points="485.7,313.3 489.5,313.3 487.6,309.9"/>
<polygon class="ot" points="529.8,348.3 533.6,348.3 531.7,344.9"/>
<polygon class="ot" points="491.7,389.2 495.5,389.2 493.6,385.8"/>
<polygon class="ot" points="523.2,407.5 527,407.5 525.1,404.1"/>
<polygon class="ot" points="536.4,410.1 540.2,410.1 538.3,406.7"/>
<rect class="fs" x="457.75" y="371.05" width="4.7" height="4.7"/>
<rect class="fs" x="468.55" y="396.35" width="4.7" height="4.7"/>
<rect class="fs" x="485.55" y="382.35" width="4.7" height="4.7"/>
<rect class="fs" x="503.55" y="400.15" width="4.7" height="4.7"/>
<rect class="fs" x="457.65" y="406.05" width="4.7" height="4.7"/>
<rect class="fs" x="462.85" y="406.05" width="4.7" height="4.7"/>
<rect class="fs" x="485.65" y="406.05" width="4.7" height="4.7"/>
<rect class="fs" x="529.35" y="406.05" width="4.7" height="4.7"/>
<polygon class="ft" points="468,387.6 473.2,387.6 470.6,383"/>
<polygon class="ft" points="436.7,355.9 441.9,355.9 439.3,351.3"/>
<polygon class="ft" points="422,365.3 427.2,365.3 424.6,360.7"/>
<polygon class="ft" points="441.8,381 447,381 444.4,376.4"/>
<polygon class="ft" points="436.7,387.4 441.9,387.4 439.3,382.8"/>
<polygon class="ft" points="462.7,392.3 467.9,392.3 465.3,387.7"/>
<polygon class="ft" points="474,394.9 479.2,394.9 476.6,390.3"/>
<polygon class="ft" points="468.3,397.4 473.5,397.4 470.9,392.8"/>
<polygon class="ft" points="431.8,398.9 437,398.9 434.4,394.3"/>
<polygon class="ft" points="426.6,402.1 431.8,402.1 429.2,397.5"/>
<polygon class="ft" points="441.8,401.5 447,401.5 444.4,396.9"/>
<polygon class="ft" points="436.9,405.3 442.1,405.3 439.5,400.7"/>
<polygon class="ft" points="491,399.9 496.2,399.9 493.6,395.3"/>
<polygon class="ft" points="426.6,410.7 431.8,410.7 429.2,406.1"/>
<polygon class="ft" points="431.8,410.7 437,410.7 434.4,406.1"/>
<polygon class="ft" points="447,410.7 452.2,410.7 449.6,406.1"/>
<polygon class="ft" points="479.6,410.7 484.8,410.7 482.2,406.1"/>
<polygon class="ft" points="496.9,410.8 502.1,410.8 499.5,406.2"/>
<line class="dot" x1="446.9" y1="256.3" x2="446.9" y2="364.9" stroke-dasharray="3.4 1.2" style="stroke:#333;stroke-width:1.3"/>
<line class="dsh" x1="446.9" y1="365.4" x2="561.3" y2="408.9" stroke-dasharray="4.9 2.8"/>
<line class="sol" x1="445" y1="377.2" x2="525" y2="408.4"/>
<polygon class="ot" style="stroke-width:1.1" points="539.15,257.5 542.85,257.5 541,253.7"/>
<text x="553.4" y="258.1" font-size="9" font-family='"Liberation Serif", serif' font-weight="bold" text-anchor="start"  class="lg" textLength="98" lengthAdjust="spacingAndGlyphs">Shallow landslide, F=0.13</text>
<rect class="os" style="stroke-width:1.2" x="539.2" y="262.8" width="3.6" height="3.6"/>
<text x="553.4" y="267.2" font-size="9" font-family='"Liberation Serif", serif' font-weight="bold" text-anchor="start"  class="lg" textLength="86.8" lengthAdjust="spacingAndGlyphs">Shallow landslide, F=0</text>
<polygon class="ft" points="538.5,276.35 543.5,276.35 541,271.45"/>
<text x="553.4" y="276.8" font-size="9" font-family='"Liberation Serif", serif' font-weight="bold" text-anchor="start"  class="lg" textLength="76.8" lengthAdjust="spacingAndGlyphs">Stable slope, F=0.13</text>
<rect class="fs" x="538.75" y="280.75" width="4.5" height="4.5"/>
<text x="553.4" y="286.3" font-size="9" font-family='"Liberation Serif", serif' font-weight="bold" text-anchor="start"  class="lg" textLength="65.6" lengthAdjust="spacingAndGlyphs">Stable slope, F=0</text>
<line class="sol" x1="531.2" y1="292.5" x2="551.6" y2="292.5" style="stroke-width:1.3"/>
<text x="552.3" y="295.4" font-size="9" font-family='"Liberation Serif", serif' font-weight="bold" text-anchor="start"  class="lg" textLength="39.2" lengthAdjust="spacingAndGlyphs">S+G=0.74</text>
<line class="dsh" x1="531.2" y1="302" x2="551.6" y2="302" stroke-dasharray="4 3" style="stroke-width:1.6"/>
<text x="552.3" y="304.9" font-size="9" font-family='"Liberation Serif", serif' font-weight="bold" text-anchor="start"  class="lg" textLength="39.2" lengthAdjust="spacingAndGlyphs">S+G=0.87</text>
<line class="dot" x1="531.2" y1="310.9" x2="551.6" y2="310.9" stroke-dasharray="2.6 1.4" style="stroke-width:1.6"/>
<text x="552.3" y="313.8" font-size="9" font-family='"Liberation Serif", serif' font-weight="bold" text-anchor="start"  class="lg" textLength="26.5" lengthAdjust="spacingAndGlyphs">S=0.41</text>
</g>
</svg></body></html>
